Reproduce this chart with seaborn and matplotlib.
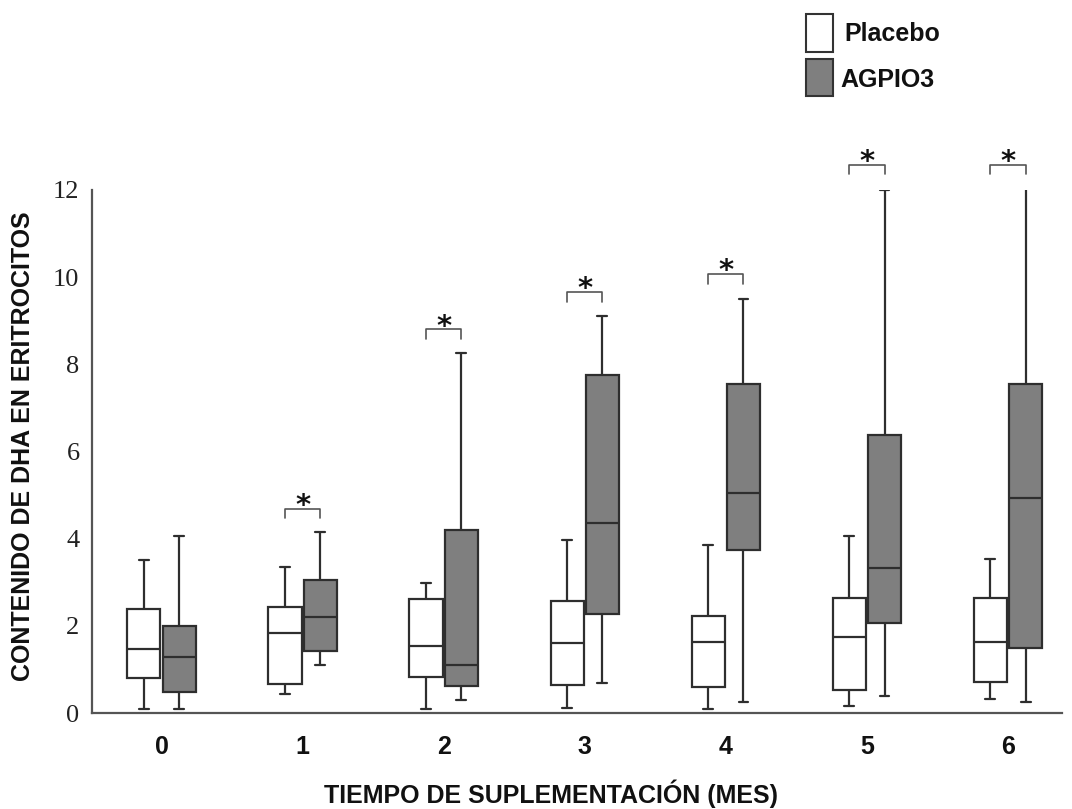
import numpy as np
import pandas as pd
import matplotlib
matplotlib.use("Agg")
import matplotlib.pyplot as plt
import seaborn as sns
from matplotlib.patches import Rectangle

# ---------------- data (five-number summaries) ----------------
months = ["0", "1", "2", "3", "4", "5", "6"]
groups = ["Placebo", "AGPIO3"]

placebo_min = [0.09, 0.43, 0.09, 0.12, 0.09, 0.16, 0.33]
placebo_q1 = [0.80, 0.66, 0.83, 0.64, 0.60, 0.52, 0.72]
placebo_median = [1.47, 1.83, 1.53, 1.61, 1.62, 1.74, 1.62]
placebo_q3 = [2.38, 2.43, 2.61, 2.56, 2.22, 2.65, 2.64]
placebo_max = [3.50, 3.34, 2.98, 3.96, 3.85, 4.07, 3.54]

agpio3_min = [0.09, 1.10, 0.30, 0.69, 0.25, 0.39, 0.25]
agpio3_q1 = [0.48, 1.42, 0.62, 2.27, 3.75, 2.06, 1.48]
agpio3_median = [1.28, 2.20, 1.10, 4.35, 5.04, 3.32, 4.94]
agpio3_q3 = [1.99, 3.05, 4.19, 7.76, 7.55, 6.39, 7.55]
agpio3_max = [4.05, 4.15, 8.25, 9.11, 9.50, 12.01, 12.04]

sig_months = ["1", "2", "3", "4", "5", "6"]
sig_heights = [4.69, 8.80, 9.66, 10.07, 12.58, 12.58]

y_ticks = [0, 2, 4, 6, 8, 10, 12]
x_label = "TIEMPO DE SUPLEMENTACIÓN (MES)"
y_label = "CONTENIDO DE DHA EN ERITROCITOS"

# ---------------- build long table ----------------
rows = []
summaries = {
    "Placebo": [placebo_min, placebo_q1, placebo_median, placebo_q3, placebo_max],
    "AGPIO3": [agpio3_min, agpio3_q1, agpio3_median, agpio3_q3, agpio3_max],
}
for g in groups:
    for i, m in enumerate(months):
        for arr in summaries[g]:
            rows.append({"month": m, "group": g, "value": arr[i]})
df = pd.DataFrame(rows)

# ---------------- style ----------------
sns.set_theme(style="white")
plt.rcParams["font.family"] = ["Liberation Sans", "DejaVu Sans"]

W, H = 1072, 809
fig = plt.figure(figsize=(W / 100, H / 100), dpi=100)
ax = fig.add_axes([92 / W, 1 - 713 / H, (1062 - 92) / W, (713 - 190) / H])

line_col = "#2e2e2e"
palette = {"Placebo": "#ffffff", "AGPIO3": "#7f7f7f"}
box_width = 0.5
box_gap = 0.06

sns.boxplot(
    data=df, x="month", y="value", hue="group", order=months, hue_order=groups,
    palette=palette, saturation=1, width=box_width, gap=box_gap, whis=np.inf,
    linecolor=line_col, linewidth=1.6, capwidths=0.07, legend=False, ax=ax,
)

# significance brackets
off = box_width / 4
tick = 0.22
for m, h in zip(sig_months, sig_heights):
    i = months.index(m)
    x0, x1 = i - off, i + off
    ax.plot([x0, x0, x1, x1], [h - tick, h, h, h - tick], color="#555555",
            lw=1.2, clip_on=False)
    ax.text(i, h - 0.12, "*", ha="center", va="baseline", fontsize=21,
            fontweight="bold", color="#111111", family="DejaVu Sans",
            clip_on=False)

ax.set_xlim(-0.493, 6.383)
ax.set_ylim(0, 12)
ax.set_yticks(y_ticks)
ax.set_yticklabels([str(t) for t in y_ticks], family="Liberation Serif",
                   fontsize=19, color="#222222")
ax.set_xticks(range(len(months)))
ax.set_xticklabels(months, fontsize=18, fontweight="bold", color="#111111")
ax.tick_params(axis="both", length=0)
ax.tick_params(axis="x", pad=16)
ax.tick_params(axis="y", pad=9)
ax.set_xlabel("")
ax.set_ylabel("")
for s in ["top", "right"]:
    ax.spines[s].set_visible(False)
for s in ["left", "bottom"]:
    ax.spines[s].set_color("#555555")
    ax.spines[s].set_linewidth(1.6)

fig.text(551 / W, 1 - 803 / H, x_label, ha="center", va="baseline",
         fontsize=18, fontweight="bold", color="#111111")
fig.text(23 / W, 1 - 446 / H, y_label, ha="center", va="center", rotation=90,
         fontsize=18, fontweight="bold", color="#111111")

# legend drawn as figure patches + text
leg_boxes = [(806, 14, 27, 38), (806, 59, 27, 37)]
leg_text_x = [844, 840]
leg_text_y = [34, 80]
for g, (bx, by, bw, bh), tx, ty in zip(groups, leg_boxes, leg_text_x, leg_text_y):
    fig.add_artist(Rectangle((bx / W, 1 - (by + bh) / H), bw / W, bh / H,
                             transform=fig.transFigure, facecolor=palette[g],
                             edgecolor="#333333", linewidth=1.5))
    fig.text(tx / W, 1 - ty / H, g, ha="left", va="center",
             fontsize=18, fontweight="bold", color="#111111")

fig.savefig("out.png", dpi=100)
